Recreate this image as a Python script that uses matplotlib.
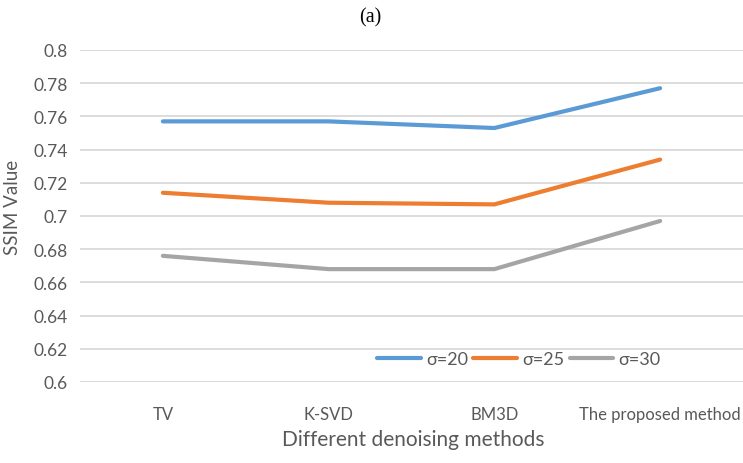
import matplotlib
matplotlib.use("Agg")
import matplotlib.pyplot as plt

methods = ["TV", "K-SVD", "BM3D", "The proposed method"]
sigma20 = [0.757, 0.757, 0.753, 0.777]
sigma25 = [0.714, 0.708, 0.707, 0.734]
sigma30 = [0.676, 0.668, 0.668, 0.697]
series_labels = ["σ=20", "σ=25", "σ=30"]
yticks = [0.6, 0.62, 0.64, 0.66, 0.68, 0.7, 0.72, 0.74, 0.76, 0.78, 0.8]
ytick_labels = ["0.6", "0.62", "0.64", "0.66", "0.68", "0.7", "0.72", "0.74", "0.76", "0.78", "0.8"]

plt.rcParams['font.family'] = ['Lato', 'DejaVu Sans']
txt = '#595959'

fig = plt.figure(figsize=(7.43, 4.64), dpi=100)
W, H = 743, 464
ax = fig.add_axes([80 / W, 1 - 383 / H, 663 / W, 332 / H])

x = list(range(len(methods)))
colors = ['#5B9BD5', '#ED7D31', '#A5A5A5']
for vals, lab, c in zip([sigma20, sigma25, sigma30], series_labels, colors):
    ax.plot(x, vals, color=c, lw=3.0, label=lab, solid_capstyle='round')

ax.set_xlim(-0.5, len(methods) - 0.5)
ax.set_ylim(0.6, 0.8)
ax.set_yticks(yticks)
ax.set_yticklabels(ytick_labels)
ax.set_xticks(x)
ax.set_xticklabels(methods)
ax.tick_params(axis='both', length=0, labelsize=12.5, colors=txt)
ax.tick_params(axis='x', labelsize=12, pad=17)
ax.tick_params(axis='y', pad=9)
ax.grid(axis='y', color='#D9D9D9', lw=1.3)
ax.set_axisbelow(True)
for s in ax.spines.values():
    s.set_visible(False)

leg = ax.legend(loc='center', bbox_to_anchor=(0.662, 0.069), ncol=3, frameon=False,
                fontsize=13, handlelength=2.4, handletextpad=0.3, columnspacing=0.3,
                borderaxespad=0)
for t in leg.get_texts():
    t.set_color(txt)

fig.text(370 / W, 1 - 18 / H, "(a)", ha='center', va='center', fontsize=14.5,
         family='Liberation Serif', color='black')
fig.text(13 / W, 1 - 207 / H, "SSIM Value", rotation=90, ha='center', va='center',
         fontsize=13.5, color=txt)
fig.text(413 / W, 1 - 440 / H, "Different denoising methods", ha='center', va='center',
         fontsize=15, color=txt)

fig.savefig("out.png", dpi=100)
